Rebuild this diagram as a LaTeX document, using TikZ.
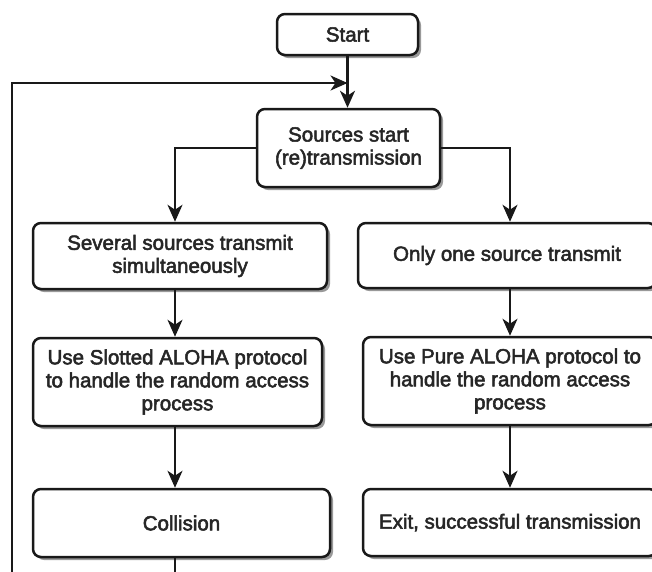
\documentclass[tikz,border=0pt]{standalone}
\usepackage{fontspec}
\setmainfont[FakeBold=2.5]{Liberation Sans}
\usetikzlibrary{arrows.meta,shadows,calc}
\begin{document}
\begin{tikzpicture}[x=1pt,y=-1pt,
  box/.style={draw=black!90, line width=2.5pt, rounded corners=8pt, fill=white,
    align=center, inner sep=0pt, font=\fontsize{20.5}{23}\selectfont, text=black!85,
    drop shadow={shadow xshift=3pt, shadow yshift=-3pt, fill=black!40, opacity=1}},
  conn/.style={line width=2.4pt, draw=black!90,
    -{Stealth[length=17pt,width=15pt,inset=5pt]}}]
\useasboundingbox (0,0) rectangle (652,571);
\fill[white] (0,0) rectangle (652,571);
\clip (0,0) rectangle (652,571);
\coordinate (colL) at (175,0);
\coordinate (colR) at (510,0);
\node[box, minimum width=141pt, minimum height=41pt] (start) at (347.5,34.5) {Start};
\node[box, minimum width=183pt, minimum height=78pt] (src) at (348.5,148) {Sources start\\(re)transmission};
\node[box, minimum width=294pt, minimum height=66pt] (sev) at (180,256) {Several sources transmit\\simultaneously};
\node[box, minimum width=298pt, minimum height=65pt] (only) at (507,255.5) {Only one source transmit};
\node[box, minimum width=289pt, minimum height=88pt] (slot) at (177.5,382) {Use Slotted ALOHA protocol\\to handle the random access\\process};
\node[box, minimum width=294pt, minimum height=88pt] (pure) at (510,381) {Use Pure ALOHA protocol to\\handle the random access\\process};
\node[box, minimum width=297pt, minimum height=68pt] (coll) at (181.5,523) {Collision};
\node[box, minimum width=294pt, minimum height=67pt] (exit) at (510,522.5) {Exit, successful transmission};
\coordinate (join) at (347.5,83);
\coordinate (loopL) at (12,620);
\draw[conn] (start.south) -- (start.south |- src.north);
\draw[conn] (src.west) -| (sev.north -| colL);
\draw[conn] (src.east) -| (only.north -| colR);
\draw[conn] (sev.south -| colL) -- (slot.north -| colL);
\draw[conn] (only.south -| colR) -- (pure.north -| colR);
\draw[conn] (slot.south -| colL) -- (coll.north -| colL);
\draw[conn] (pure.south -| colR) -- (exit.north -| colR);
\draw[conn] (coll.south -| colL) -- (colL |- loopL) -- (loopL) -- (loopL |- join) -- (join);
\end{tikzpicture}
\end{document}
